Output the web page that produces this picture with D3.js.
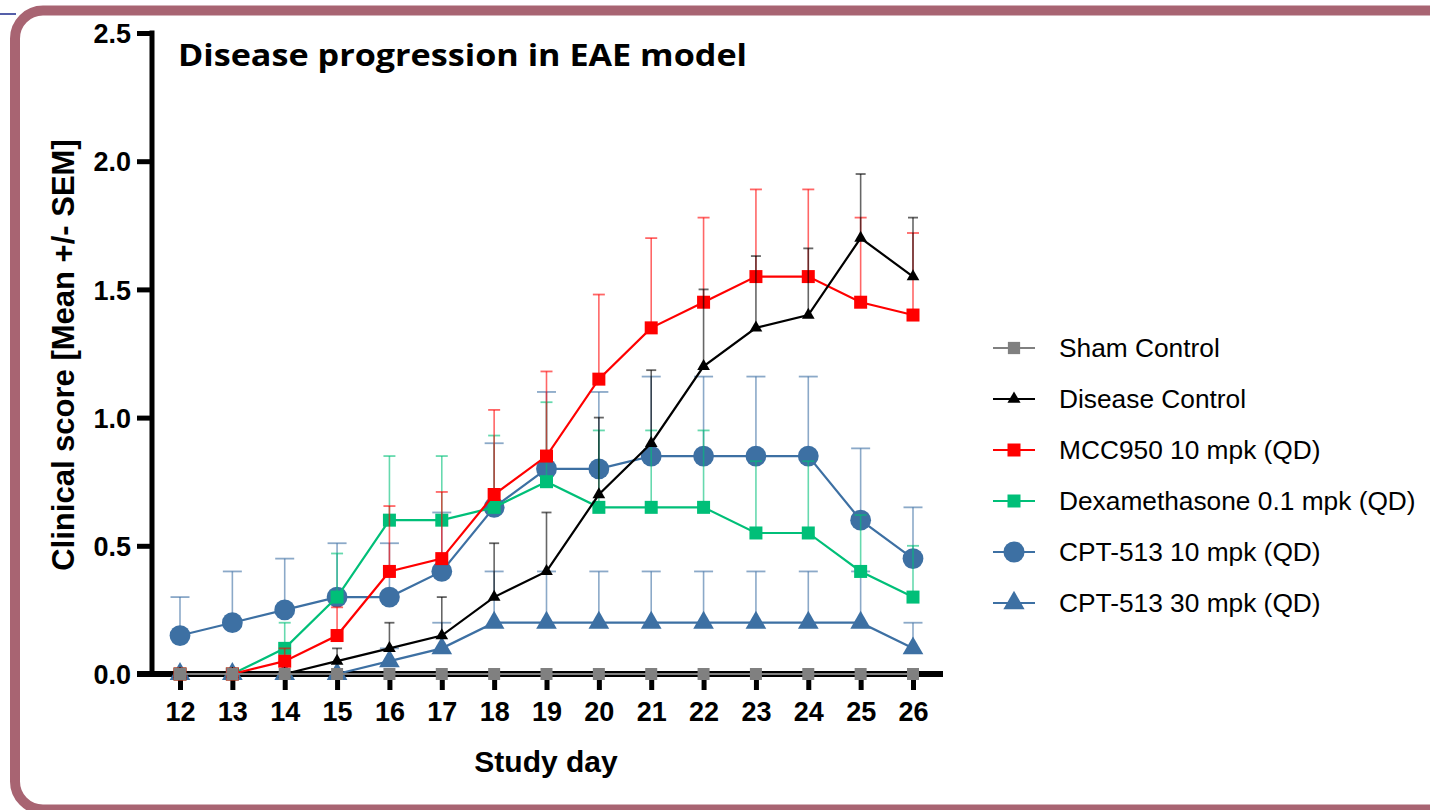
<!DOCTYPE html>
<html>
<head>
<meta charset="utf-8">
<script src="https://cdn.jsdelivr.net/npm/d3@7"></script>
<style>
  body { margin: 0; background: #fff; }
  svg { display: block; }
</style>
</head>
<body>
<div id="chart"></div>
<script>
(function () {
  var width = 1430,
    height = 810;

  // data
  var days = [12, 13, 14, 15, 16, 17, 18, 19, 20, 21, 22, 23, 24, 25, 26];
  var yTicks = [0, 0.5, 1.0, 1.5, 2.0, 2.5];

  var shamMean = [0, 0, 0, 0, 0, 0, 0, 0, 0, 0, 0, 0, 0, 0, 0];
  var shamSem = [0, 0, 0, 0, 0, 0, 0, 0, 0, 0, 0, 0, 0, 0, 0];
  var diseaseMean = [0, 0, 0, 0.05, 0.1, 0.15, 0.3, 0.4, 0.7, 0.9, 1.2, 1.35, 1.4, 1.7, 1.55];
  var diseaseSem = [0, 0, 0, 0.05, 0.1, 0.15, 0.21, 0.23, 0.3, 0.285, 0.3, 0.28, 0.26, 0.25, 0.23];
  var mccMean = [0, 0, 0.05, 0.15, 0.4, 0.45, 0.7, 0.85, 1.15, 1.35, 1.45, 1.55, 1.55, 1.45, 1.4];
  var mccSem = [0, 0, 0.05, 0.11, 0.255, 0.26, 0.33, 0.33, 0.33, 0.35, 0.33, 0.34, 0.34, 0.33, 0.32];
  var dexMean = [0, 0, 0.1, 0.3, 0.6, 0.6, 0.65, 0.75, 0.65, 0.65, 0.65, 0.55, 0.55, 0.4, 0.3];
  var dexSem = [0, 0, 0.1, 0.17, 0.25, 0.25, 0.28, 0.31, 0.3, 0.3, 0.3, 0.28, 0.28, 0.22, 0.2];
  var cpt10Mean = [0.15, 0.2, 0.25, 0.3, 0.3, 0.4, 0.65, 0.8, 0.8, 0.85, 0.85, 0.85, 0.85, 0.6, 0.45];
  var cpt10Sem = [0.15, 0.2, 0.2, 0.21, 0.21, 0.23, 0.25, 0.3, 0.3, 0.31, 0.31, 0.31, 0.31, 0.28, 0.2];
  var cpt30Mean = [0, 0, 0, 0, 0.05, 0.1, 0.2, 0.2, 0.2, 0.2, 0.2, 0.2, 0.2, 0.2, 0.1];
  var cpt30Sem = [0, 0, 0, 0, 0.05, 0.1, 0.2, 0.2, 0.2, 0.2, 0.2, 0.2, 0.2, 0.2, 0.1];

  var names = ["Sham Control", "Disease Control", "MCC950 10 mpk (QD)",
    "Dexamethasone 0.1 mpk (QD)", "CPT-513 10 mpk (QD)", "CPT-513 30 mpk (QD)"];

  var blue = "#3d70a3";
  var series = [
    { name: names[0], mean: shamMean, sem: shamSem, color: "#808080", shape: d3.symbolSquare, size: 144, cap: 0, lsize: 150 },
    { name: names[1], mean: diseaseMean, sem: diseaseSem, color: "#000000", shape: d3.symbolTriangle, size: 70, cap: 10, lsize: 75 },
    { name: names[2], mean: mccMean, sem: mccSem, color: "#ff0000", shape: d3.symbolSquare, size: 169, cap: 12, lsize: 169 },
    { name: names[3], mean: dexMean, sem: dexSem, color: "#00bf78", shape: d3.symbolSquare, size: 169, cap: 12, lsize: 169 },
    { name: names[4], mean: cpt10Mean, sem: cpt10Sem, color: blue, shape: d3.symbolCircle, size: 340, cap: 19, lsize: 350 },
    { name: names[5], mean: cpt30Mean, sem: cpt30Sem, color: blue, shape: d3.symbolTriangle, size: 185, cap: 19, lsize: 195 }
  ];

  var font = "Arial, 'Liberation Sans', sans-serif";

  var svg = d3.select("#chart")
    .append("svg")
    .attr("width", width)
    .attr("height", height);

  // frame
  svg.append("line")
    .attr("x1", 0).attr("x2", 16)
    .attr("y1", 14).attr("y2", 14)
    .attr("stroke", "#1c2a8c")
    .attr("stroke-width", 1.5);

  svg.append("rect")
    .attr("x", 15).attr("y", 10.5)
    .attr("width", 1450).attr("height", 799)
    .attr("rx", 28).attr("ry", 28)
    .attr("fill", "#fff")
    .attr("stroke", "#a86472")
    .attr("stroke-width", 10);

  var x = d3.scaleLinear().domain([12, 26]).range([180, 913]);
  var y = d3.scaleLinear().domain([0, 2.5]).range([674, 33]);

  // y axis
  var yAxis = svg.append("g")
    .attr("transform", "translate(152,0)")
    .call(d3.axisLeft(y).tickValues(yTicks).tickFormat(d3.format(".1f")).tickSize(15).tickPadding(6));
  yAxis.select(".domain").remove();
  yAxis.selectAll(".tick line").attr("stroke", "#000").attr("stroke-width", 5);
  yAxis.selectAll(".tick text")
    .attr("fill", "#000")
    .style("font-family", font)
    .style("font-weight", "bold")
    .style("font-size", "27px")
    .attr("dy", "0.36em");
  svg.append("line")
    .attr("x1", 152).attr("x2", 152)
    .attr("y1", 30.5).attr("y2", 676)
    .attr("stroke", "#000").attr("stroke-width", 5);

  // x axis
  var xAxis = svg.append("g")
    .attr("transform", "translate(0,676)")
    .call(d3.axisBottom(x).tickValues(days).tickFormat(d3.format("d")).tickSize(14).tickPadding(12));
  xAxis.select(".domain").remove();
  xAxis.selectAll(".tick line").attr("stroke", "#000").attr("stroke-width", 5);
  xAxis.selectAll(".tick text")
    .attr("fill", "#000")
    .style("font-family", font)
    .style("font-weight", "bold")
    .style("font-size", "27px");
  svg.append("line")
    .attr("x1", 137).attr("x2", 943)
    .attr("y1", 674).attr("y2", 674)
    .attr("stroke", "#000").attr("stroke-width", 6);

  // axis titles
  svg.append("text")
    .attr("transform", "translate(74,355) rotate(-90)")
    .attr("text-anchor", "middle")
    .style("font-family", font)
    .style("font-weight", "bold")
    .style("font-size", "31px")
    .text("Clinical score [Mean +/- SEM]");

  svg.append("text")
    .attr("x", 546).attr("y", 772)
    .attr("text-anchor", "middle")
    .style("font-family", font)
    .style("font-weight", "bold")
    .style("font-size", "30px")
    .text("Study day");

  svg.append("text")
    .attr("x", 178).attr("y", 66)
    .style("font-family", "'Open Sans', sans-serif")
    .style("font-weight", "bold")
    .style("font-size", "30px")
    .attr("textLength", 569)
    .attr("lengthAdjust", "spacingAndGlyphs")
    .text("Disease progression in EAE model");

  var line = d3.line()
    .x(function (d) { return x(d.day); })
    .y(function (d) { return y(d.mean); });

  // draw last legend entry first so sham ends on top
  series.slice().reverse().forEach(function (s) {
    var pts = days.map(function (day, i) {
      return { day: day, mean: s.mean[i], sem: s.sem[i] };
    });
    var g = svg.append("g");

    g.append("path")
      .datum(pts)
      .attr("d", line)
      .attr("fill", "none")
      .attr("stroke", s.color)
      .attr("stroke-width", 2.2);

    var err = pts.filter(function (d) { return d.sem > 0; });
    g.selectAll(".stem")
      .data(err)
      .enter().append("line")
      .attr("x1", function (d) { return x(d.day); })
      .attr("x2", function (d) { return x(d.day); })
      .attr("y1", function (d) { return y(d.mean); })
      .attr("y2", function (d) { return y(d.mean + d.sem); })
      .attr("stroke", s.color)
      .attr("stroke-opacity", 0.6)
      .attr("stroke-width", 1.6);
    g.selectAll(".cap")
      .data(err)
      .enter().append("line")
      .attr("x1", function (d) { return x(d.day) - s.cap / 2; })
      .attr("x2", function (d) { return x(d.day) + s.cap / 2; })
      .attr("y1", function (d) { return y(d.mean + d.sem); })
      .attr("y2", function (d) { return y(d.mean + d.sem); })
      .attr("stroke", s.color)
      .attr("stroke-opacity", 0.6)
      .attr("stroke-width", 1.8);

    g.selectAll(".pt")
      .data(pts)
      .enter().append("path")
      .attr("transform", function (d) { return "translate(" + x(d.day) + "," + y(d.mean) + ")"; })
      .attr("d", d3.symbol().type(s.shape).size(s.size))
      .attr("fill", s.color);
  });

  // legend
  var legend = svg.selectAll(".legend")
    .data(series)
    .enter().append("g")
    .attr("transform", function (d, i) { return "translate(993," + (348 + i * 51) + ")"; });
  legend.append("line")
    .attr("x1", 0).attr("x2", 42)
    .attr("stroke", function (d) { return d.color; })
    .attr("stroke-width", 2.2);
  legend.append("path")
    .attr("transform", "translate(21,0)")
    .attr("d", function (d) { return d3.symbol().type(d.shape).size(d.lsize)(); })
    .attr("fill", function (d) { return d.color; });
  legend.append("text")
    .attr("x", 66)
    .attr("y", 9)
    .style("font-family", font)
    .style("font-size", "26.3px")
    .text(function (d) { return d.name; });
})();
</script>
</body>
</html>
